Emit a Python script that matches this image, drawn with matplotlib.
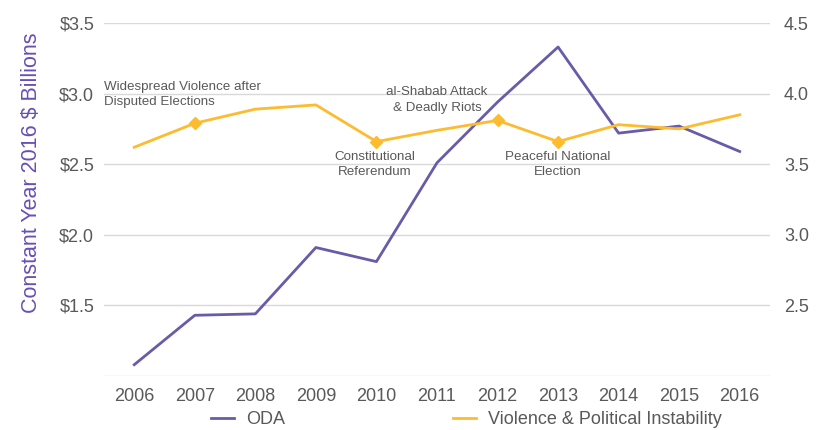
import matplotlib.pyplot as plt
import numpy as np

plt.rcParams['font.family'] = ['Liberation Sans', 'DejaVu Sans']

years = ['2006', '2007', '2008', '2009', '2010', '2011',
         '2012', '2013', '2014', '2015', '2016']
oda = [1.08, 1.43, 1.44, 1.91, 1.81, 2.51, 2.94, 3.33, 2.72, 2.77, 2.59]
violence = [3.62, 3.79, 3.89, 3.92, 3.66, 3.74, 3.81, 3.66, 3.78, 3.75, 3.85]
marked = [1, 4, 6, 7]

PURPLE = '#6A5BA8'
YELLOW = '#FDBB30'
GREY = '#595959'
GRID = '#D9D9D9'

x = np.arange(len(years))

fig = plt.figure(figsize=(8.2, 4.3), dpi=100)
ax = fig.add_axes([0.1268, 0.1256, 0.8122, 0.8209])
ax2 = ax.twinx()

l1, = ax.plot(x, oda, color=PURPLE, lw=2, label='ODA', zorder=3)
l2, = ax2.plot(x, violence, color=YELLOW, lw=2, marker='D', markersize=6.5,
               markevery=marked, label='Violence & Political Instability')

ax.set_xlim(-0.5, len(years) - 0.5)
ax.set_ylim(1.0, 3.5)
ax2.set_ylim(2.0, 4.5)
ax.set_yticks([1.0, 1.5, 2.0, 2.5, 3.0, 3.5])
ax.set_yticklabels(['', '$1.5', '$2.0', '$2.5', '$3.0', '$3.5'])
ax2.set_yticks([2.0, 2.5, 3.0, 3.5, 4.0, 4.5])
ax2.set_yticklabels(['', '2.5', '3.0', '3.5', '4.0', '4.5'])
ax.set_xticks(x)
ax.set_xticklabels(years)

ax.grid(axis='y', color=GRID, lw=1)
ax.set_axisbelow(True)
for a in (ax, ax2):
    for s in a.spines.values():
        s.set_visible(False)
    a.tick_params(length=0, labelsize=13, colors=GREY)
ax.tick_params(axis='y', pad=7)
ax2.tick_params(axis='y', pad=10)
ax.tick_params(axis='x', pad=9)

ax.set_ylabel('Constant Year 2016 $ Billions', color='#6750B5', fontsize=15.5)
ax.yaxis.set_label_coords(-0.093, 0.575)

# event notes
note = dict(fontsize=9.6, color=GREY, linespacing=1.4)
ax.text(-0.5, 2.993, 'Widespread Violence after\nDisputed Elections',
        ha='left', va='center', **note)
ax.text(5.0, 2.955, 'al-Shabab Attack\n& Deadly Riots',
        ha='center', va='center', **note)
ax.text(3.97, 2.498, 'Constitutional\nReferendum',
        ha='center', va='center', **note)
ax.text(7.0, 2.498, 'Peaceful National\nElection',
        ha='center', va='center', **note)

fig.legend([l1, l2], [l1.get_label(), l2.get_label()], loc='center',
           bbox_to_anchor=(0.569, 0.024), ncol=2, frameon=False,
           fontsize=13, labelcolor=GREY, handlelength=1.25,
           handletextpad=0.7, columnspacing=9.3)
for h in fig.legends[0].legend_handles:
    h.set_marker('')

fig.savefig('out.png', dpi=100)
